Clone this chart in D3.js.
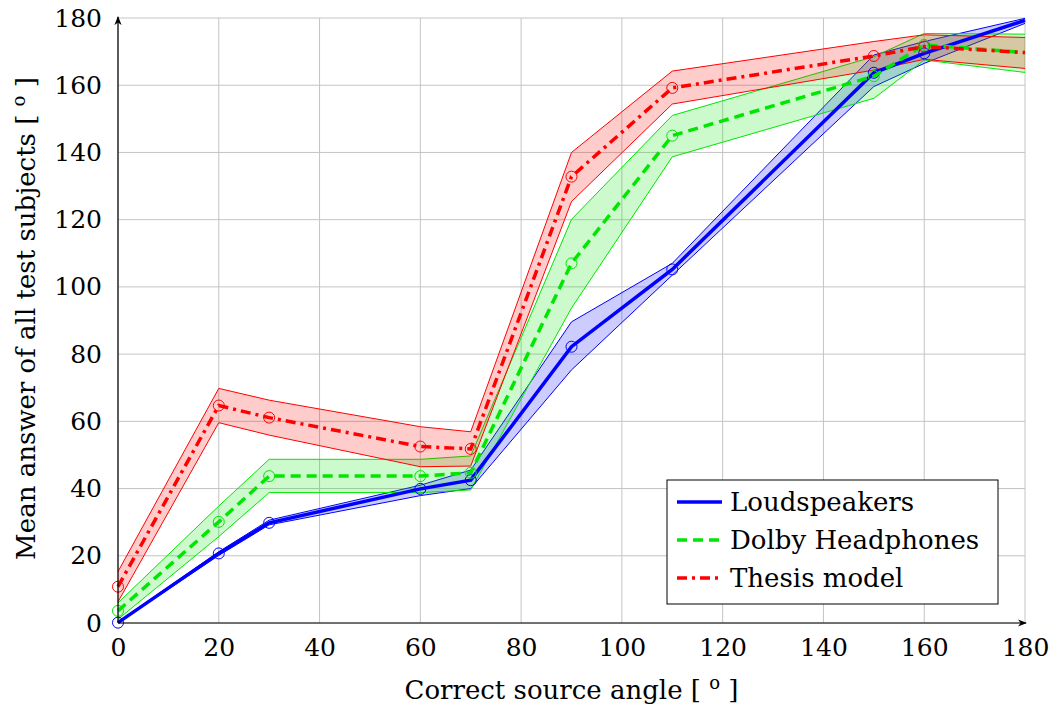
<!DOCTYPE html>
<html>
<head>
<meta charset="utf-8">
<script src="https://cdn.jsdelivr.net/npm/d3@7"></script>
<style>
  body { margin: 0; background: #fff; }
</style>
</head>
<body>
<script>
// source angles
var angles = [0, 20, 30, 60, 70, 90, 110, 150, 160, 180];

var loudMean = [0.1, 20.7, 29.8, 39.9, 42.5, 82.2, 105.2, 163.7, 169.5, 179.3];
var loudLow  = [0, 20.1, 29.2, 37.9, 40.0, 75.3, 103.5, 159.6, 166.5, 178.4];
var loudHigh = [0.3, 21.2, 30.6, 41.0, 45.5, 89.6, 107.0, 169.0, 173.0, 179.9];

var dolbyMean = [3.6, 30.1, 43.7, 43.7, 44.7, 107.0, 145.0, 162.7, 172.0, 169.7];
var dolbyLow  = [1.1, 25.7, 38.8, 38.8, 39.6, 93.7, 138.7, 156.1, 167.5, 163.8];
var dolbyHigh = [6.0, 34.8, 48.7, 48.7, 49.7, 120.1, 151.0, 168.5, 175.4, 175.2];

var thesisMean = [10.8, 64.7, 61.1, 52.5, 51.8, 132.8, 159.2, 168.7, 171.5, 169.7];
var thesisLow  = [6.3, 59.6, 55.9, 46.5, 46.7, 125.4, 154.4, 164.5, 167.7, 165.0];
var thesisHigh = [15.3, 69.8, 66.3, 58.4, 56.9, 140.0, 164.2, 173.0, 175.0, 174.2];

var seriesNames = ["Loudspeakers", "Dolby Headphones", "Thesis model"];
var xTicks = [0, 20, 40, 60, 80, 100, 120, 140, 160, 180];
var yTicks = [0, 20, 40, 60, 80, 100, 120, 140, 160, 180];

var width = 1053, height = 706;
var margins = {top: 18, left: 118, right: 28, bottom: 83};
var FONT = "'DejaVu Serif', serif";
var FS = 26, TICK_FS = 25;

var series = [
  {name: seriesNames[0], mean: loudMean, low: loudLow, high: loudHigh, color: "#0000ff", dash: null},
  {name: seriesNames[1], mean: dolbyMean, low: dolbyLow, high: dolbyHigh, color: "#00e600", dash: "10,6"},
  {name: seriesNames[2], mean: thesisMean, low: thesisLow, high: thesisHigh, color: "#ff0000", dash: "10,5,3,5"}
];

var svg = d3.select("body").append("svg")
    .attr("width", width)
    .attr("height", height);

var x = d3.scaleLinear().domain([0, 180]).range([margins.left, width - margins.right]);
var y = d3.scaleLinear().domain([0, 180]).range([height - margins.bottom, margins.top]);

// grid
var grid = svg.append("g").attr("class", "grid");
grid.selectAll("line.gx").data(xTicks).enter().append("line")
    .attr("x1", function (d) { return x(d); })
    .attr("x2", function (d) { return x(d); })
    .attr("y1", y(0)).attr("y2", y(180))
    .style("stroke", "#c4c4c4").style("stroke-width", 1);
grid.selectAll("line.gy").data(yTicks).enter().append("line")
    .attr("y1", function (d) { return y(d); })
    .attr("y2", function (d) { return y(d); })
    .attr("x1", x(0)).attr("x2", x(180))
    .style("stroke", "#c4c4c4").style("stroke-width", 1);

// bands
var area = d3.area()
    .x(function (d) { return x(d.x); })
    .y0(function (d) { return y(d.lo); })
    .y1(function (d) { return y(d.hi); });

var line = d3.line()
    .x(function (d) { return x(d.x); })
    .y(function (d) { return y(d.y); });

series.forEach(function (s) {
  var pts = angles.map(function (a, i) { return {x: a, lo: s.low[i], hi: s.high[i]}; });
  svg.append("path")
      .attr("d", area(pts))
      .style("fill", s.color)
      .style("fill-opacity", 0.2)
      .style("stroke", "none");
  svg.append("path")
      .attr("d", line(pts.map(function (p) { return {x: p.x, y: p.lo}; })))
      .style("fill", "none").style("stroke", s.color).style("stroke-width", 1);
  svg.append("path")
      .attr("d", line(pts.map(function (p) { return {x: p.x, y: p.hi}; })))
      .style("fill", "none").style("stroke", s.color).style("stroke-width", 1);
});

series.forEach(function (s) {
  var pts = angles.map(function (a, i) { return {x: a, y: s.mean[i]}; });
  svg.append("path")
      .attr("d", line(pts))
      .style("fill", "none")
      .style("stroke", s.color)
      .style("stroke-width", 3.5)
      .style("stroke-dasharray", s.dash);
  svg.selectAll(null).data(pts.filter(function (p) { return p.x < 180; }))
      .enter().append("circle")
      .attr("cx", function (d) { return x(d.x); })
      .attr("cy", function (d) { return y(d.y); })
      .attr("r", 5.5)
      .style("fill", "none")
      .style("stroke", s.color)
      .style("stroke-width", 1);
});

// axes
var defs = svg.append("defs");
defs.append("marker")
    .attr("id", "arrow")
    .attr("viewBox", "0 0 10 10")
    .attr("refX", 9).attr("refY", 5)
    .attr("markerWidth", 9).attr("markerHeight", 9)
    .attr("markerUnits", "userSpaceOnUse")
    .attr("orient", "auto")
    .append("path")
    .attr("d", "M0,1 L10,5 L0,9 L3,5 Z")
    .style("fill", "#000");

svg.append("line")
    .attr("x1", x(0)).attr("x2", x(180) + 1)
    .attr("y1", y(0)).attr("y2", y(0))
    .style("stroke", "#000").style("stroke-width", 1.2)
    .attr("marker-end", "url(#arrow)");
svg.append("line")
    .attr("x1", x(0)).attr("x2", x(0))
    .attr("y1", y(0)).attr("y2", y(180) - 1)
    .style("stroke", "#000").style("stroke-width", 1.2)
    .attr("marker-end", "url(#arrow)");

var xAxis = d3.axisBottom(x).tickValues(xTicks).tickSize(0).tickPadding(15);
var gx = svg.append("g")
    .attr("transform", "translate(0," + y(0) + ")")
    .call(xAxis)
    .attr("font-family", FONT).attr("font-size", TICK_FS);
gx.select(".domain").remove();
gx.selectAll("text").attr("fill", "#000");

var yAxis = d3.axisLeft(y).tickValues(yTicks).tickSize(0).tickPadding(16);
var gy = svg.append("g")
    .attr("transform", "translate(" + x(0) + ",0)")
    .call(yAxis)
    .attr("font-family", FONT).attr("font-size", TICK_FS);
gy.select(".domain").remove();
gy.selectAll("text").attr("fill", "#000");

// axis labels
var xl = svg.append("text")
    .attr("x", (x(0) + x(180)) / 2)
    .attr("y", 699)
    .attr("text-anchor", "middle")
    .attr("font-family", FONT).attr("font-size", FS);
xl.append("tspan").text("Correct source angle [ ");
xl.append("tspan").attr("dy", -10).attr("font-size", 18).text("o");
xl.append("tspan").attr("dy", 10).text(" ]");

var yl = svg.append("text")
    .attr("transform", "translate(35," + (y(90) - 2) + ") rotate(-90)")
    .attr("text-anchor", "middle")
    .attr("font-family", FONT).attr("font-size", FS);
yl.append("tspan").text("Mean answer of all test subjects [ ");
yl.append("tspan").attr("dy", -10).attr("font-size", 18).text("o");
yl.append("tspan").attr("dy", 10).text(" ]");

// legend
var lg = svg.append("g").attr("transform", "translate(667,480)");
lg.append("rect")
    .attr("width", 331).attr("height", 124)
    .style("fill", "#fff").style("stroke", "#000").style("stroke-width", 1);
series.forEach(function (s, i) {
  var ly = 22 + i * 38;
  lg.append("line")
      .attr("x1", 10).attr("x2", 55)
      .attr("y1", ly).attr("y2", ly)
      .style("stroke", s.color)
      .style("stroke-width", 3.5)
      .style("stroke-dasharray", s.dash);
  lg.append("text")
      .attr("x", 63).attr("y", ly + 9)
      .attr("font-family", FONT).attr("font-size", FS)
      .text(s.name);
});
</script>
</body>
</html>
